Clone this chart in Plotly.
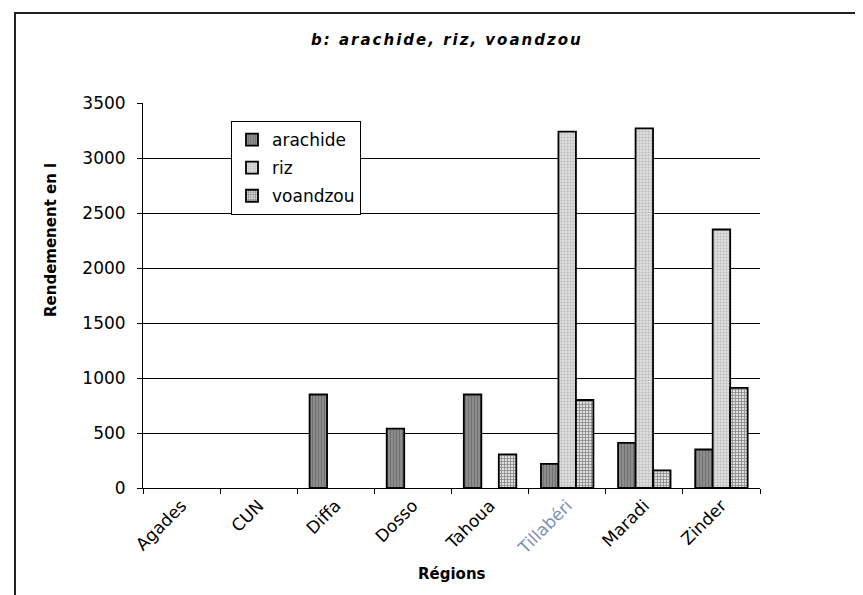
import plotly.graph_objects as go

# Rendement par région (lecture du graphique)
regions = ["Agades", "CUN", "Diffa", "Dosso", "Tahoua", "Tillabéri", "Maradi", "Zinder"]
arachide = [None, None, 850, 540, 850, 220, 410, 350]
riz = [None, None, None, None, None, 3240, 3270, 2350]
voandzou = [None, None, None, None, 305, 800, 160, 910]

y_ticks = [0, 500, 1000, 1500, 2000, 2500, 3000, 3500]

FONT = "DejaVu Sans"

# plot area in pixels: x 135..752, y 95..480
L, R, T, B = 135, 111, 95, 115
PW, PH = 863 - L - R, 595 - T - B


def px_x(x):
    return (x - L) / PW


def px_y(y):
    return (595 - B - y) / PH


fig = go.Figure()

fig.add_trace(go.Bar(
    x=regions, y=arachide, name="arachide", legendgroup="a",
    marker=dict(color="#858585", line=dict(color="black", width=1.8),
                pattern=dict(shape="|", fgcolor="#555555", bgcolor="#8c8c8c",
                             size=3, solidity=0.35))
))
fig.add_trace(go.Bar(
    x=regions, y=riz, name="riz", legendgroup="r",
    marker=dict(color="#dcdcdc", line=dict(color="black", width=1.8),
                pattern=dict(shape=".", fgcolor="#9a9a9a", bgcolor="#e6e6e6",
                             size=3, solidity=0.5))
))
fig.add_trace(go.Bar(
    x=regions, y=voandzou, name="voandzou", legendgroup="v",
    marker=dict(color="#909090", line=dict(color="black", width=1.8),
                pattern=dict(shape="+", fgcolor="#3c3c3c", bgcolor="#e0e0e0",
                             size=3, solidity=0.5))
))

fig.update_layout(
    width=863, height=595,
    margin=dict(l=L, r=R, t=T, b=B),
    paper_bgcolor="white", plot_bgcolor="white",
    font=dict(family=FONT, size=17, color="black"),
    barmode="group", bargap=0.32, bargroupgap=0,
    showlegend=True,
    legend=dict(
        x=px_x(223), y=px_y(113), xanchor="left", yanchor="top",
        bgcolor="white", bordercolor="black", borderwidth=1,
        font=dict(family=FONT, size=17),
        tracegroupgap=3, itemwidth=30,
    ),
    xaxis=dict(
        type="category", tickangle=-45, tickson="boundaries",
        ticks="outside", ticklen=5, tickcolor="black",
        showline=True, linecolor="black", linewidth=1,
        showgrid=False,
        tickvals=regions,
        ticktext=[r if r != "Tillabéri" else "<span style='color:#7d8fb3'>Tillabéri</span>"
                  for r in regions],
        tickfont=dict(family=FONT, size=17),
    ),
    yaxis=dict(
        range=[0, 3500], tickvals=y_ticks,
        ticks="outside", ticklen=5, tickcolor="black",
        showline=True, linecolor="black", linewidth=1,
        showgrid=True, gridcolor="black", gridwidth=1,
        zeroline=False, ticklabelstandoff=8,
        tickfont=dict(family=FONT, size=17),
    ),
)

# Titles
fig.add_annotation(
    text="b: arachide, riz, voandzou", xref="paper", yref="paper",
    x=px_x(439), y=px_y(32), xanchor="center", yanchor="middle",
    showarrow=False,
    font=dict(family=FONT, size=15, weight="bold", style="italic"),
)
fig.add_annotation(
    text="Rendemenent en l", xref="paper", yref="paper",
    x=px_x(43), y=px_y(232), xanchor="center", yanchor="middle",
    textangle=-90, showarrow=False,
    font=dict(family=FONT, size=15, weight="bold"),
)
fig.add_annotation(
    text="Régions", xref="paper", yref="paper",
    x=px_x(444), y=px_y(566), xanchor="center", yanchor="middle",
    showarrow=False,
    font=dict(family=FONT, size=15, weight="bold"),
)

# outer chart frame (right and bottom edges fall outside the picture)
fig.add_shape(type="rect", xref="paper", yref="paper",
              x0=px_x(7), y0=px_y(620), x1=px_x(880), y1=px_y(5),
              line=dict(color="#222222", width=2), layer="below")

title_spacing = """
document.querySelectorAll('.annotation-text').forEach(function (t) {
  if (t.textContent.indexOf('arachide, riz') >= 0) { t.style.letterSpacing = '2px'; }
});
"""

fig.write_html("out.html", post_script=title_spacing)
